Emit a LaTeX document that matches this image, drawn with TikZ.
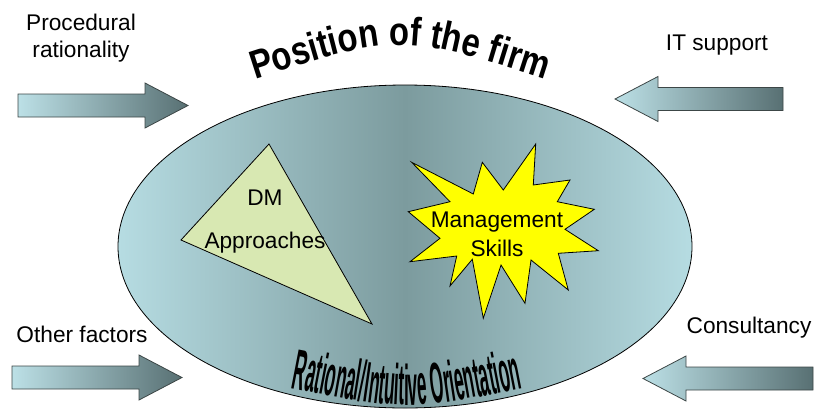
\documentclass[tikz,border=0pt]{standalone}
\usepackage{fontspec}
\setmainfont{Liberation Sans}
\newfontfamily\titlefont[FakeStretch=0.82]{Liberation Sans Bold}
\newfontfamily\orientfont[FakeStretch=0.3]{Liberation Sans Bold}
\usetikzlibrary{decorations.text}

\definecolor{ellLight}{RGB}{182,220,226}
\definecolor{ellDark}{RGB}{124,155,158}
\definecolor{arrowLight}{RGB}{188,224,230}
\definecolor{arrowDark}{RGB}{88,112,115}
\definecolor{arrowEdge}{RGB}{60,70,70}
\definecolor{triFill}{RGB}{216,232,178}
\definecolor{burstFill}{RGB}{255,255,0}

\begin{document}
\begin{tikzpicture}[x=0.75pt,y=-0.75pt]
  \tikzstyle{side text}=[font=\fontsize{17}{20.25}\selectfont,align=center]
  \tikzstyle{block arrow}=[draw=arrowEdge,line width=0.6pt,
                           left color=arrowLight,right color=arrowDark]
  \tikzstyle{firm}=[draw=black,line width=0.6pt,
                    left color=ellLight,right color=ellLight,middle color=ellDark]
  \tikzstyle{approach}=[draw=black,line width=0.6pt,fill=triFill]
  \tikzstyle{burst}=[draw=black,line width=0.6pt,fill=burstFill]
  \useasboundingbox (0,0) rectangle (815,412);

  % the firm
  \draw[firm] (405,246.5) ellipse [x radius=287, y radius=161.5];
  \path[decorate,decoration={text along path,text align=center,
        text={|\titlefont\fontsize{30}{30}\selectfont|Position of the firm}}]
    (240,84) .. controls (400,32) .. (560,84);
  \path[decorate,decoration={text along path,text align=center,
        text={|\orientfont\fontsize{43}{43}\selectfont|Rational/Intuitive Orientation}}]
    (284,387) .. controls (407,411) .. (530,387);

  % influences from outside
  \draw[block arrow] (18,94) -- (145,94) -- (145,83) -- (188,105.5)
    -- (145,128) -- (145,117) -- (18,117) -- cycle;
  \draw[block arrow] (12,366) -- (139,366) -- (139,355) -- (182,377.5)
    -- (139,400) -- (139,389) -- (12,389) -- cycle;
  \draw[block arrow] (783,87.5) -- (658,87.5) -- (658,76.5) -- (615,99)
    -- (658,121.5) -- (658,110.5) -- (783,110.5) -- cycle;
  \draw[block arrow] (813,367) -- (686,367) -- (686,356) -- (643,378.5)
    -- (686,401) -- (686,390) -- (813,390) -- cycle;

  \node[side text] (proc) at (81,38) {Procedural\\rationality};
  \node[side text,anchor=base] (other) at (82,342) {Other factors};
  \node[side text,anchor=base] (it) at (717,50) {IT support};
  \node[side text,anchor=base] (cons) at (749,333) {Consultancy};

  % decision making approaches
  \coordinate (t1) at (269,144);
  \coordinate (t2) at (181,240);
  \coordinate (t3) at (372,324);
  \fill[gray,shift={(3,3)}] (t1) -- (t2) -- (t3) -- cycle;
  \draw[approach] (t1) -- (t2) -- (t3) -- cycle;
  \node[side text,font=\fontsize{17}{32.25}\selectfont] (dm) at (265,222)
    {DM\\Approaches};

  % management skills
  \draw[burst] (411.7,162.3) -- (473.3,194) -- (482.3,162.3) -- (503.3,190)
    -- (535.7,144) -- (533.3,185) -- (570,180) -- (557.3,201.7)
    -- (594.3,209.3) -- (565,229.3) -- (598.3,250.7) -- (558.3,253.3)
    -- (568.3,290) -- (531,260) -- (525,303.3) -- (501,265)
    -- (483.3,318.3) -- (472.3,259.3) -- (450,286) -- (456.7,256)
    -- (410,261.7) -- (440,238.3) -- (408.3,211.7) -- (450,201.7) -- cycle;
  \node[side text,font=\fontsize{17}{21.75}\selectfont] (skills) at (497,234.5)
    {Management\\Skills};
\end{tikzpicture}
\end{document}
